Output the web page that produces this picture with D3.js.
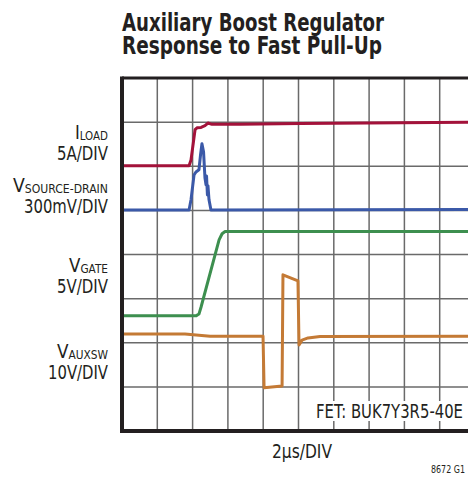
<!DOCTYPE html>
<html>
<head>
<meta charset="utf-8">
<script src="https://cdn.jsdelivr.net/npm/d3@7"></script>
<style>
    body { margin: 0; background: white; }
    text { font-family: "Liberation Sans Narrow", "DejaVu Sans Condensed", "Roboto Condensed", sans-serif; fill: #231f20; }
</style>
</head>
<body>
<div id="scope-chart"></div>
<script>

// Trace data: time in us, level in grid divisions from the bottom edge
var iLoadTime = [0, 3.80, 3.91, 4.14, 4.25, 4.48, 4.70, 4.87, 5.10, 6.69, 10.1, 20];
var iLoadDiv  = [6.01, 6.01, 6.14, 6.83, 6.87, 6.88, 6.92, 6.98, 6.95, 6.95, 6.97, 7.0];

var vsdTime = [0, 3.80, 3.91, 4.08, 4.19, 4.36, 4.45, 4.53, 4.62, 4.70, 4.76, 4.79, 4.84, 4.87, 4.93, 5.04, 20];
var vsdDiv  = [5.01, 5.01, 5.24, 5.80, 5.87, 5.92, 6.26, 6.51, 6.33, 5.74, 5.58, 5.78, 5.35, 5.56, 5.24, 5.01, 5.02];

var vGateTime = [0, 4.19, 4.36, 4.48, 5.50, 5.67, 5.84, 6.69, 20];
var vGateDiv  = [2.61, 2.61, 2.65, 2.81, 4.33, 4.47, 4.52, 4.52, 4.52];

var vAuxTime = [0, 3.57, 4.99, 7.99, 8.05, 9.07, 9.12, 9.97, 10.03, 10.2, 10.54, 11.22, 20];
var vAuxDiv  = [2.20, 2.20, 2.15, 2.15, 0.98, 1.02, 3.54, 3.40, 1.95, 2.06, 2.11, 2.14, 2.15];

var traceColors = ["#a3123a", "#3b59a8", "#3d8f4f", "#c47a35"];

var titleLines = ["Auxiliary Boost Regulator", "Response to Fast Pull-Up"];
var traceLabels = [
    {main: "I", sub: "LOAD", scale: "5A/DIV"},
    {main: "V", sub: "SOURCE-DRAIN", scale: "300mV/DIV"},
    {main: "V", sub: "GATE", scale: "5V/DIV"},
    {main: "V", sub: "AUXSW", scale: "10V/DIV"}
];
var xDivisions = d3.range(0, 21, 2);   // 2us per division
var yDivisions = d3.range(0, 9);

var svg = d3.select("#scope-chart").append("svg")
    .attr("width", 468)
    .attr("height", 479);

var margin = {top: 78, left: 122};
var width = 353, height = 353;

var x = d3.scaleLinear().domain([0, 20]).range([margin.left, margin.left + width]);
var y = d3.scaleLinear().domain([0, 8]).range([margin.top + height, margin.top]);

// no narrow font installed, so squeeze text to the reference widths
function squeeze(sel, w) {
    sel.attr("textLength", w).attr("lengthAdjust", "spacingAndGlyphs");
}

// Title
var titleWidths = [262, 260];
svg.selectAll(".title")
    .data(titleLines)
    .enter().append("text")
    .attr("class", "title")
    .attr("x", 122)
    .attr("y", function(d, i) { return 31 + i * 23; })
    .style("font-size", "24px")
    .style("font-weight", "bold")
    .attr("textLength", function(d, i) { return titleWidths[i]; })
    .attr("lengthAdjust", "spacingAndGlyphs")
    .text(function(d) { return d; });

// Grid
svg.selectAll(".vgrid")
    .data(xDivisions.slice(1))
    .enter().append("line")
    .attr("x1", function(d) { return x(d); })
    .attr("x2", function(d) { return x(d); })
    .attr("y1", y(8))
    .attr("y2", y(0))
    .style("stroke", "#6a6a6a")
    .style("stroke-width", 1.5);

svg.selectAll(".hgrid")
    .data(yDivisions.slice(1, 8))
    .enter().append("line")
    .attr("x1", x(0))
    .attr("x2", x(20))
    .attr("y1", function(d) { return y(d); })
    .attr("y2", function(d) { return y(d); })
    .style("stroke", "#6a6a6a")
    .style("stroke-width", 1.5);

// Traces
var line = d3.line()
    .x(function(d) { return x(d[0]); })
    .y(function(d) { return y(d[1]); });

var traces = [
    d3.zip(iLoadTime, iLoadDiv),
    d3.zip(vsdTime, vsdDiv),
    d3.zip(vGateTime, vGateDiv),
    d3.zip(vAuxTime, vAuxDiv)
];

svg.selectAll(".trace")
    .data(traces)
    .enter().append("path")
    .attr("d", line)
    .style("fill", "none")
    .style("stroke", function(d, i) { return traceColors[i]; })
    .style("stroke-width", 3)
    .style("stroke-linejoin", "round");

// Border: top thin, left and bottom thick
svg.append("line")
    .attr("x1", x(0)).attr("x2", x(20))
    .attr("y1", y(8)).attr("y2", y(8))
    .style("stroke", "#231f20").style("stroke-width", 3);

svg.append("line")
    .attr("x1", x(0)).attr("x2", x(0))
    .attr("y1", y(8) - 1.5).attr("y2", y(0) + 2)
    .style("stroke", "#231f20").style("stroke-width", 4);

svg.append("line")
    .attr("x1", x(0) - 2).attr("x2", x(20))
    .attr("y1", y(0)).attr("y2", y(0))
    .style("stroke", "#231f20").style("stroke-width", 4);

// Trace labels
var labelBaselines = [139, 192, 272, 358];
var nameWidths = [33, 95, 39, 51];
var scaleWidths = [51, 84, 51, 60];

traceLabels.forEach(function(d, i) {
    var t = svg.append("text")
        .attr("x", 108)
        .attr("y", labelBaselines[i])
        .attr("text-anchor", "end")
        .style("font-size", "19px");
    t.append("tspan").text(d.main);
    t.append("tspan").attr("dy", 1).style("font-size", "12px").text(d.sub);
    squeeze(t, nameWidths[i]);

    svg.append("text")
        .attr("x", 108)
        .attr("y", labelBaselines[i] + 21)
        .attr("text-anchor", "end")
        .style("font-size", "19px")
        .text(d.scale)
        .call(squeeze, scaleWidths[i]);
});

// FET note with white backing
svg.append("rect")
    .attr("x", 313).attr("y", 401)
    .attr("width", 155).attr("height", 20)
    .style("fill", "white");

svg.append("text")
    .attr("x", 463)
    .attr("y", 418)
    .attr("text-anchor", "end")
    .style("font-size", "19px")
    .text("FET: BUK7Y3R5-40E")
    .call(squeeze, 147);

svg.append("text")
    .attr("x", 302)
    .attr("y", 458)
    .attr("text-anchor", "middle")
    .style("font-size", "19px")
    .text("2µs/DIV")
    .call(squeeze, 60);

svg.append("text")
    .attr("x", 465)
    .attr("y", 473)
    .attr("text-anchor", "end")
    .style("font-size", "11px")
    .text("8672 G1")
    .call(squeeze, 34);

</script>
</body>
</html>
